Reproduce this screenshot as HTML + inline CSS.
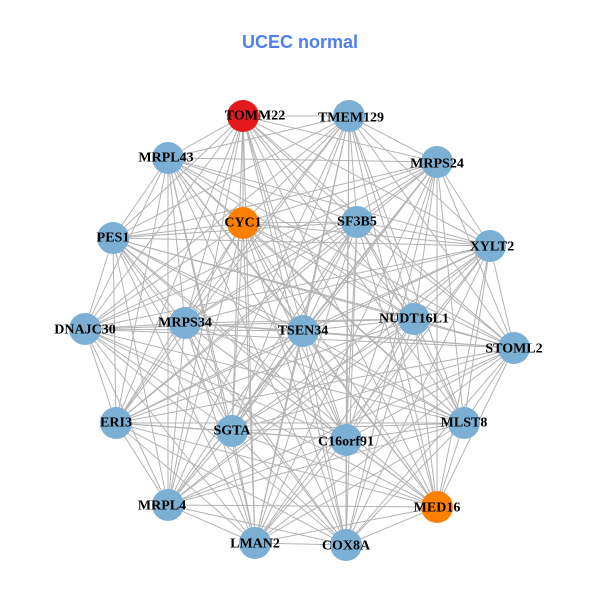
<!DOCTYPE html>
<html><head><meta charset="utf-8"><style>
html,body{margin:0;padding:0;background:#fff;}
svg{display:block;}
text.l{font-family:"Liberation Serif",serif;font-weight:bold;font-size:14px;fill:#000;text-anchor:middle;dominant-baseline:central;}
</style></head><body>
<svg id="s" width="600" height="600" viewBox="0 0 600 600">
<text x="300" y="48" text-anchor="middle" font-family="Liberation Sans, sans-serif" font-weight="bold" font-size="18" fill="#4F7FE8">UCEC normal</text>
<g id="edges" stroke="#b3b3b3" stroke-width="1"></g>
<g id="nodes">
<circle cx="243" cy="116" r="16" fill="#E31A1C"/>
<circle cx="349" cy="116" r="16" fill="#7BAFD4"/>
<circle cx="168" cy="158" r="16" fill="#7BAFD4"/>
<circle cx="437" cy="162" r="16" fill="#7BAFD4"/>
<circle cx="243" cy="223" r="16" fill="#FF7F00"/>
<circle cx="357" cy="222" r="16" fill="#7BAFD4"/>
<circle cx="113" cy="238" r="16" fill="#7BAFD4"/>
<circle cx="490" cy="246" r="16" fill="#7BAFD4"/>
<circle cx="414" cy="319" r="16" fill="#7BAFD4"/>
<circle cx="85" cy="329" r="16" fill="#7BAFD4"/>
<circle cx="185" cy="323" r="16" fill="#7BAFD4"/>
<circle cx="303" cy="331" r="16" fill="#7BAFD4"/>
<circle cx="514" cy="348" r="16" fill="#7BAFD4"/>
<circle cx="116" cy="423" r="16" fill="#7BAFD4"/>
<circle cx="232" cy="431" r="16" fill="#7BAFD4"/>
<circle cx="346" cy="440" r="16" fill="#7BAFD4"/>
<circle cx="464" cy="423" r="16" fill="#7BAFD4"/>
<circle cx="168" cy="505" r="16" fill="#7BAFD4"/>
<circle cx="437" cy="507" r="16" fill="#FF7F00"/>
<circle cx="255" cy="543" r="16" fill="#7BAFD4"/>
<circle cx="346" cy="545" r="16" fill="#7BAFD4"/>
</g>
<g>
<text class="l" x="255" y="116">TOMM22</text>
<text class="l" x="351" y="118">TMEM129</text>
<text class="l" x="166" y="158">MRPL43</text>
<text class="l" x="437" y="164">MRPS24</text>
<text class="l" x="243" y="223">CYC1</text>
<text class="l" x="357" y="222">SF3B5</text>
<text class="l" x="113" y="238">PES1</text>
<text class="l" x="492" y="247">XYLT2</text>
<text class="l" x="414" y="319">NUDT16L1</text>
<text class="l" x="85" y="330">DNAJC30</text>
<text class="l" x="185" y="323">MRPS34</text>
<text class="l" x="303" y="331">TSEN34</text>
<text class="l" x="514" y="349">STOML2</text>
<text class="l" x="116" y="423">ERI3</text>
<text class="l" x="232" y="431">SGTA</text>
<text class="l" x="346" y="442">C16orf91</text>
<text class="l" x="464" y="423">MLST8</text>
<text class="l" x="162" y="506">MRPL4</text>
<text class="l" x="437" y="508">MED16</text>
<text class="l" x="255" y="544">LMAN2</text>
<text class="l" x="346" y="546">COX8A</text>
</g>
</svg>
<script>
var cs=document.querySelectorAll('#nodes circle'),g=document.getElementById('edges'),h='';
for(var i=0;i<cs.length;i++)for(var j=i+1;j<cs.length;j++){
h+='<line x1="'+cs[i].getAttribute('cx')+'" y1="'+cs[i].getAttribute('cy')+'" x2="'+cs[j].getAttribute('cx')+'" y2="'+cs[j].getAttribute('cy')+'"/>';}
g.innerHTML=h;
</script>
</body></html>
